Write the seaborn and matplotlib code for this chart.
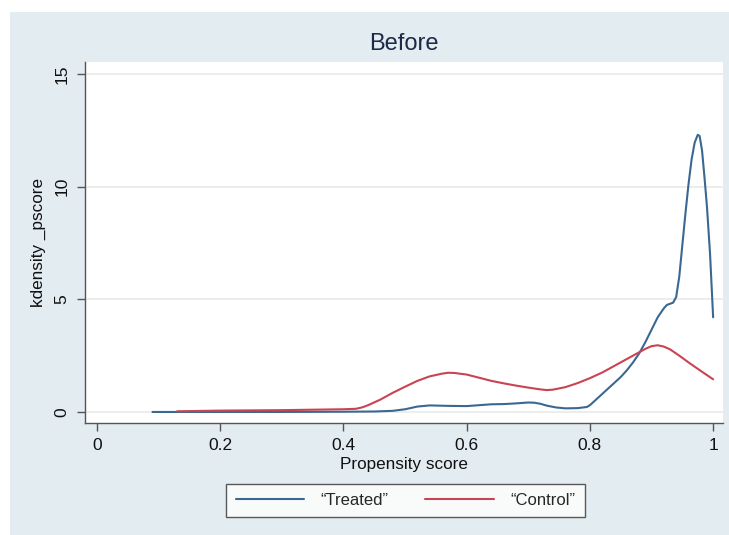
import numpy as np
import pandas as pd
import matplotlib
matplotlib.use("Agg")
import matplotlib.pyplot as plt
from matplotlib.patches import Rectangle
import seaborn as sns

# Kernel density estimates of the propensity score
treated_x = [0.09, 0.20, 0.30, 0.40, 0.45, 0.48, 0.50, 0.52, 0.54, 0.57, 0.60, 0.62,
             0.64, 0.66, 0.68, 0.70, 0.71, 0.72, 0.73, 0.745, 0.76, 0.78, 0.795, 0.80,
             0.81, 0.82, 0.83, 0.84, 0.85, 0.86, 0.87, 0.88, 0.89, 0.90, 0.91, 0.92,
             0.925, 0.93, 0.935, 0.94, 0.945, 0.95, 0.955, 0.96, 0.965, 0.97, 0.975,
             0.978, 0.982, 0.986, 0.99, 0.995, 1.0]
treated_y = [0.0, 0.0, 0.0, 0.01, 0.02, 0.05, 0.12, 0.24, 0.29, 0.27, 0.26, 0.30,
             0.34, 0.35, 0.38, 0.42, 0.41, 0.36, 0.28, 0.20, 0.16, 0.17, 0.22, 0.30,
             0.55, 0.80, 1.05, 1.30, 1.55, 1.85, 2.20, 2.60, 3.10, 3.65, 4.20, 4.60,
             4.75, 4.80, 4.85, 5.10, 6.0, 7.4, 8.8, 10.1, 11.2, 11.95, 12.3,
             12.25, 11.6, 10.4, 9.1, 7.0, 4.2]

control_x = [0.13, 0.20, 0.30, 0.40, 0.42, 0.43, 0.44, 0.46, 0.48, 0.50, 0.52, 0.54,
             0.56, 0.57, 0.58, 0.60, 0.62, 0.64, 0.66, 0.68, 0.70, 0.72, 0.73, 0.74,
             0.76, 0.78, 0.80, 0.82, 0.84, 0.86, 0.88, 0.89, 0.90, 0.91, 0.92, 0.93,
             0.945, 0.96, 0.98, 1.0]
control_y = [0.03, 0.06, 0.08, 0.12, 0.14, 0.20, 0.30, 0.55, 0.85, 1.12, 1.38, 1.58,
             1.70, 1.74, 1.73, 1.66, 1.52, 1.38, 1.27, 1.17, 1.08, 1.00, 0.97, 0.99,
             1.10, 1.28, 1.50, 1.75, 2.05, 2.35, 2.65, 2.80, 2.92, 2.96, 2.90, 2.78,
             2.50, 2.20, 1.82, 1.45]

groups = ['\u201cTreated\u201d', '\u201cControl\u201d']
colors = ['#3a6892', '#c84452']
x_ticks = [0, 0.2, 0.4, 0.6, 0.8, 1]
x_tick_labels = ['0', '0.2', '0.4', '0.6', '0.8', '1']
y_ticks = [0, 5, 10, 15]

df = pd.concat([
    pd.DataFrame({'pscore': treated_x, 'density': treated_y, 'group': groups[0]}),
    pd.DataFrame({'pscore': control_x, 'density': control_y, 'group': groups[1]}),
])

sns.set_style("white")
plt.rcParams['font.family'] = ['Liberation Sans', 'DejaVu Sans']

bg = '#e3ecf0'
fig = plt.figure(figsize=(7.29, 5.35), dpi=100, facecolor='white')
# stata-like outer region, with a thin white border at top/left
fig.patches.append(Rectangle((10 / 729, 0), 1, 1 - 12 / 535, transform=fig.transFigure,
                             facecolor=bg, edgecolor='none', zorder=-10))

ax = fig.add_axes([85 / 729, 1 - 423 / 535, (723 - 85) / 729, (423 - 62) / 535])
ax.set_facecolor('white')

sns.lineplot(data=df, x='pscore', y='density', hue='group', palette=dict(zip(groups, colors)),
             estimator=None, sort=False, linewidth=1.5, legend=False, ax=ax)
for ln in ax.lines:
    ln.set_solid_joinstyle('round')

ax.set_xlim(-0.0195, 1.016)
ax.set_ylim(-0.49, 15.53)
ax.set_xticks(x_ticks)
ax.set_xticklabels(x_tick_labels)
ax.set_yticks(y_ticks)
ax.set_yticklabels([str(v) for v in y_ticks], rotation=90, va='center')
ax.grid(axis='y', color='#eaeaea', linewidth=1.2)
ax.set_axisbelow(True)

for side in ['top', 'right']:
    ax.spines[side].set_visible(False)
for side in ['left', 'bottom']:
    ax.spines[side].set_color('#555555')
    ax.spines[side].set_linewidth(1.0)

ax.tick_params(axis='both', which='major', direction='out', length=6, width=1,
               color='#555555', labelsize=12.5, pad=5, labelcolor='#111111')
ax.tick_params(axis='x', bottom=True)
ax.tick_params(axis='y', left=True)

ax.set_xlabel('Propensity score', fontsize=12.3, color='#111111', labelpad=3)
ax.set_ylabel('kdensity _pscore', fontsize=12.3, color='#111111', labelpad=6)
ax.set_title('Before', fontsize=17, color='#1c2a48', pad=9)

handles = [plt.Line2D([], [], color=c, linewidth=1.5) for c in colors]
leg = fig.legend(handles, groups, loc='center', bbox_to_anchor=(405.5 / 729, 1 - 500.5 / 535),
                 ncol=2, fontsize=12, frameon=True, fancybox=False, handlelength=4.1,
                 handletextpad=1.0, columnspacing=2.2, borderpad=0.55, borderaxespad=0)
leg.get_frame().set_edgecolor('#333333')
leg.get_frame().set_linewidth(1.0)
leg.get_frame().set_facecolor('white')

fig.savefig('out.png', dpi=100, facecolor=fig.get_facecolor())
